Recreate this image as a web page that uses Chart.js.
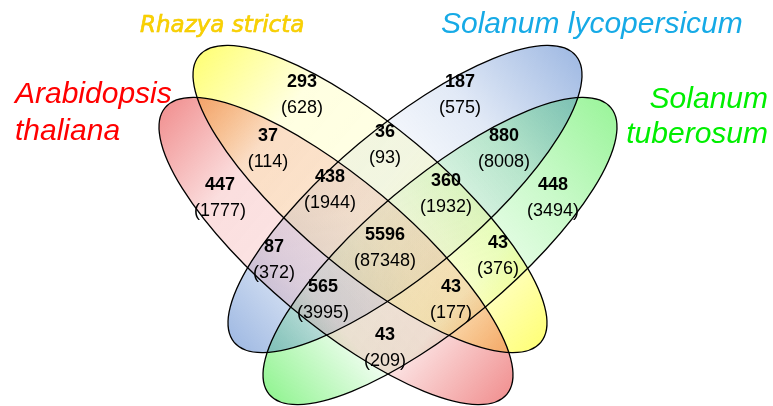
<!DOCTYPE html>
<html>
<head>
<meta charset="utf-8">
<script src="https://cdn.jsdelivr.net/npm/chart.js@4"></script>
<style>
  html, body { margin: 0; padding: 0; background: #fff; }
</style>
</head>
<body>
<canvas id="venn" width="773" height="406"></canvas>
<script>
// the four species (one ellipse each)
const setNames = ['Arabidopsis thaliana', 'Rhazya stricta', 'Solanum lycopersicum', 'Solanum tuberosum'];
const setColors = ['#ff0000', '#fbd300', '#16aae6', '#00ee00'];

// regions of the diagram: clusters and (genes) in each
const regionNames = ['R', 'L', 'A+R', 'R+L', 'L+T', 'A', 'A+R+L', 'R+L+T', 'T', 'A+R+L+T', 'A+L', 'R+T', 'A+L+T', 'A+R+T', 'A+T'];
const clusterCounts = [293, 187, 37, 36, 880, 447, 438, 360, 448, 5596, 87, 43, 565, 43, 43];
const geneCounts = [628, 575, 114, 93, 8008, 1777, 1944, 1932, 3494, 87348, 372, 376, 3995, 177, 209];

// layout (in axis units, the axes run 0..773 and 0..406)
const labelX = [302, 460, 268, 385, 504, 220, 330, 446, 553, 385, 274, 498, 323, 451, 385];
const labelY = [95, 95, 149, 145, 149, 198, 190, 194, 198, 248, 260, 256, 300, 300, 348];

// ellipses: A (red), R (yellow), L (blue), T (green)
const ellipseCx = [336, 370, 405, 440];
const ellipseCy = [251, 199, 199, 251];
const ellipseA = 223;
const ellipseB = 72;
const ellipseRot = [40, 40, -40, -40];
const fillRgb = [[230, 60, 60], [255, 255, 40], [70, 120, 200], [60, 235, 60]];
// gradient along the long axis: [position, alpha]
const fillStops = [
  [[0, 0.55], [0.22, 0.17], [0.5, 0.13], [0.78, 0.17], [1, 0.55]],
  [[0, 0.62], [0.23, 0.14], [0.5, 0.12], [0.8, 0.22], [1, 0.62]],
  [[0, 0.5], [0.2, 0.2], [0.4, 0.08], [0.6, 0.08], [0.74, 0.16], [1, 0.5]],
  [[0, 0.55], [0.22, 0.1], [0.5, 0.06], [0.77, 0.27], [1, 0.5]]
];

const vennPlugin = {
  id: 'venn',
  beforeDatasetsDraw(chart) {
    const ctx = chart.ctx;
    const xs = chart.scales.x, ys = chart.scales.y;
    const px = v => xs.getPixelForValue(v);
    const py = v => ys.getPixelForValue(v);
    const ord = [3, 2, 1, 0];
    const shape = i => {
      const cx = px(ellipseCx[i]), cy = py(ellipseCy[i]);
      const rx = px(ellipseCx[i] + ellipseA) - cx;
      const ry = Math.abs(py(ellipseCy[i] + ellipseB) - cy);
      return { cx, cy, rx, ry, rot: ellipseRot[i] * Math.PI / 180 };
    };
    ctx.save();
    ord.forEach(i => {
      const e = shape(i);
      const dx = e.rx * Math.cos(e.rot), dy = e.rx * Math.sin(e.rot);
      const g = ctx.createLinearGradient(e.cx - dx, e.cy - dy, e.cx + dx, e.cy + dy);
      const c = fillRgb[i].join(',');
      fillStops[i].forEach(s => g.addColorStop(s[0], 'rgba(' + c + ',' + s[1] + ')'));
      ctx.beginPath();
      ctx.ellipse(e.cx, e.cy, e.rx, e.ry, e.rot, 0, Math.PI * 2);
      ctx.fillStyle = g;
      ctx.fill();
    });
    ctx.strokeStyle = '#000';
    ctx.lineWidth = 1.3;
    ord.forEach(i => {
      const e = shape(i);
      ctx.beginPath();
      ctx.ellipse(e.cx, e.cy, e.rx, e.ry, e.rot, 0, Math.PI * 2);
      ctx.stroke();
    });

    // set names
    ctx.textBaseline = 'alphabetic';
    ctx.fillStyle = setColors[0];
    ctx.font = 'italic 30px "Liberation Sans"';
    ctx.textAlign = 'left';
    ctx.fillText('Arabidopsis', px(15), py(103));
    ctx.fillText('thaliana', px(15), py(140));
    ctx.fillStyle = setColors[1];
    ctx.strokeStyle = '#f2c800';
    ctx.lineWidth = 0.6;
    ctx.font = 'oblique 23px "DejaVu Sans"';
    ctx.fillText(setNames[1], px(140), py(32));
    ctx.strokeText(setNames[1], px(140), py(32));
    ctx.fillStyle = setColors[2];
    ctx.font = 'italic 30px "Liberation Sans"';
    ctx.fillText(setNames[2], px(441), py(33));
    ctx.fillStyle = setColors[3];
    ctx.textAlign = 'right';
    ctx.fillText('Solanum', px(768), py(108));
    ctx.fillText('tuberosum', px(768), py(143));
    ctx.restore();
  },
  afterDatasetsDraw(chart) {
    const ctx = chart.ctx;
    const pts = chart.getDatasetMeta(0).data;
    ctx.save();
    ctx.fillStyle = '#000';
    ctx.textAlign = 'center';
    ctx.textBaseline = 'middle';
    pts.forEach((p, i) => {
      ctx.font = 'bold 18px "Liberation Sans"';
      ctx.fillText(String(clusterCounts[i]), p.x, p.y - 13);
      ctx.font = '18px "Liberation Sans"';
      ctx.fillText('(' + geneCounts[i] + ')', p.x, p.y + 13);
    });
    ctx.restore();
  }
};

new Chart(document.getElementById('venn'), {
  type: 'scatter',
  data: {
    labels: regionNames,
    datasets: [{
      label: 'regions',
      data: labelX.map((x, i) => ({ x: x, y: labelY[i] })),
      pointRadius: 0,
      pointHoverRadius: 0
    }]
  },
  options: {
    responsive: false,
    animation: false,
    events: [],
    layout: { padding: 0 },
    plugins: { legend: { display: false }, tooltip: { enabled: false } },
    scales: {
      x: { type: 'linear', min: 0, max: 773, display: false },
      y: { type: 'linear', min: 0, max: 406, reverse: true, display: false }
    }
  },
  plugins: [vennPlugin]
});
</script>
</body>
</html>
